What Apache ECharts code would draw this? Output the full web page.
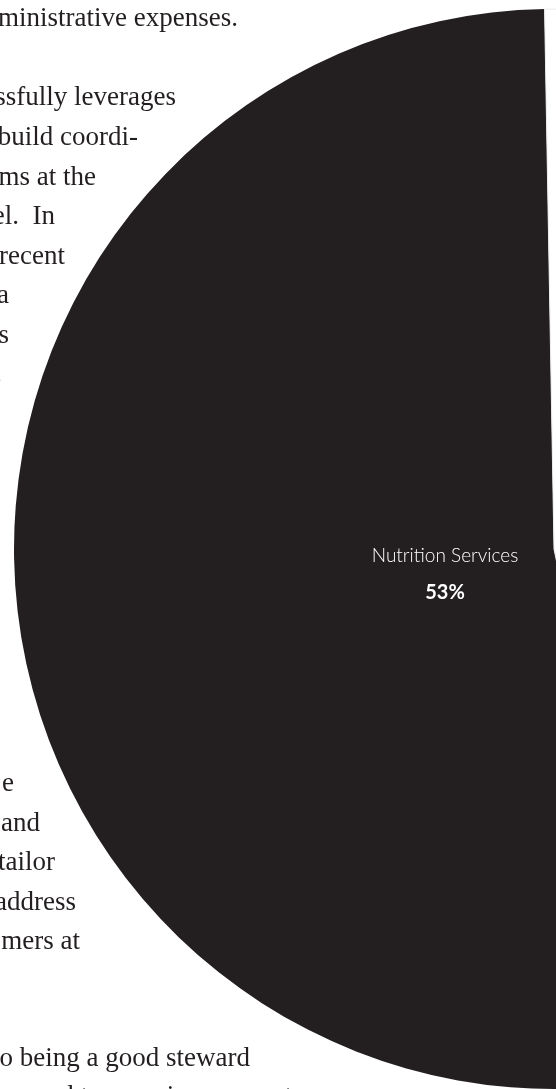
<!DOCTYPE html>
<html>
<head>
<meta charset="utf-8">
<script src="https://cdn.jsdelivr.net/npm/echarts@6/dist/echarts.min.js"></script>
<style>
  html, body { margin: 0; padding: 0; background: #ffffff; }
  #chart { width: 556px; height: 1089px; }
</style>
</head>
<body>
<div id="chart"></div>
<script>
// ---- data ----
var categories = ['Nutrition Services', 'Other'];
var values = [53, 47];
var sliceColors = ['#231f20', '#ffffff'];

// body text of the page behind the chart (visible fragments)
var bodyLines = [
  'ministrative expenses.',
  'ssfully leverages',
  'build coordi-',
  'ms at the',
  'el.  In',
  'recent',
  'a',
  's',
  '.',
  'e',
  'and',
  'tailor',
  'address',
  'mers at',
  'o being a good steward',
  'ss and to ensuring account-'
];
// layout: right edge x, baseline y for each body line
var bodyRight = [238, 176, 138, 96, 55, 65, 9, 9, 2, 14, 40, 55, 76, 80, 250, 301];
var bodyBase  = [29, 108, 148, 188, 227, 267, 306, 346, 385, 794, 834, 873, 913, 952, 1069, 1107];

var chart = echarts.init(document.getElementById('chart'), null, { renderer: 'canvas' });

var FS = 27;
var graphics = bodyLines.map(function (t, i) {
  return {
    type: 'text',
    z: 0,
    silent: true,
    style: {
      text: t,
      x: bodyRight[i],
      y: bodyBase[i] - FS * 0.36,
      align: 'right',
      verticalAlign: 'middle',
      fill: '#231f20',
      font: FS + 'px "Liberation Serif", "DejaVu Serif", serif'
    }
  };
});

var pieData = categories.map(function (c, i) {
  var item = {
    name: c,
    value: values[i],
    itemStyle: { color: sliceColors[i] }
  };
  if (i > 0) {
    item.label = { show: false };
    item.itemStyle.borderColor = '#ececec';
    item.itemStyle.borderWidth = 1;
  }
  return item;
});

chart.setOption({
  backgroundColor: '#ffffff',
  animation: false,
  graphic: graphics,
  series: [{
    type: 'pie',
    z: 5,
    center: [554, 549],
    radius: 540,
    startAngle: 91,
    clockwise: false,
    silent: true,
    labelLine: { show: false },
    label: {
      show: true,
      position: 'inside',
      formatter: function (p) {
        return '{name|' + p.name + '}\n{pct|' + p.value + '%}';
      },
      rich: {
        name: {
          color: '#ffffff',
          fontFamily: 'Lato, "Noto Sans", sans-serif',
          fontWeight: 300,
          fontSize: 19,
          lineHeight: 37,
          align: 'center'
        },
        pct: {
          color: '#ffffff',
          fontFamily: 'Lato, "Noto Sans", sans-serif',
          fontWeight: 'bold',
          fontSize: 20,
          lineHeight: 37,
          align: 'center'
        }
      }
    },
    labelLayout: function (params) {
      if (params.dataIndex !== 0) return {};
      return { x: 445, y: 574, align: 'center', verticalAlign: 'middle' };
    },
    data: pieData
  }]
});
</script>
</body>
</html>
